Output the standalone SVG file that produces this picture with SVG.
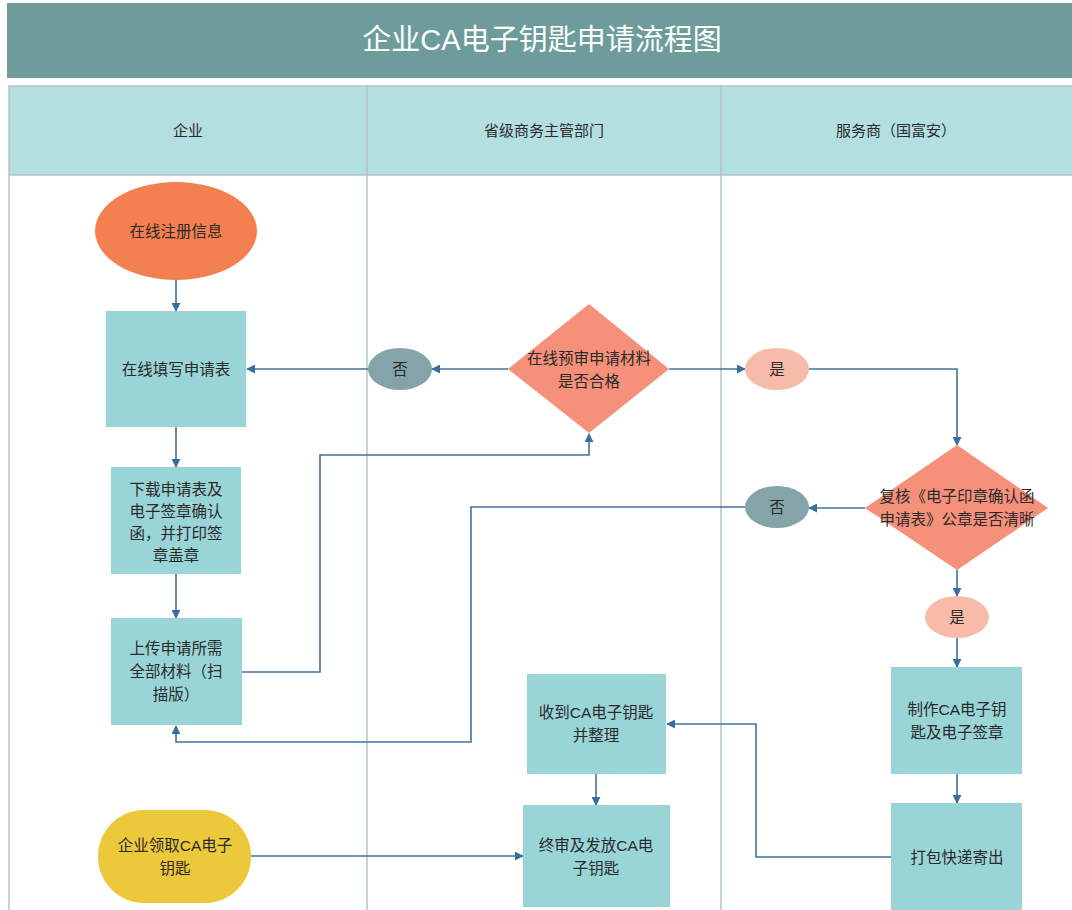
<svg xmlns="http://www.w3.org/2000/svg" width="1072" height="910" viewBox="0 0 1072 910">
<defs>
<marker id="ah" viewBox="0 0 10 10" refX="9" refY="5" markerWidth="9" markerHeight="9" markerUnits="userSpaceOnUse" orient="auto">
<path d="M0,0 L10,5 L0,10 z" fill="#3b6e9e"/>
</marker>
</defs>
<style>
text{font-family:"Liberation Sans","Noto Sans CJK SC",sans-serif;fill:#2a2a2a;text-anchor:middle;dominant-baseline:central}
.t{font-size:15.5px}
.h{font-size:15px}
.box{fill:#99d4d7}
.c{fill:none;stroke:#41729e;stroke-width:1.6;marker-end:url(#ah)}
.lane{stroke:#b5c3c8;stroke-width:1.5;fill:none}
</style>
<rect width="1072" height="910" fill="#ffffff"/>
<g id="title">
<rect x="7" y="3" width="1072" height="75" fill="#6e9c9b"/>
<text x="542" y="40" style="font-size:29px;fill:#ffffff">企业CA电子钥匙申请流程图</text>
</g>
<g id="lanes">
<rect x="9" y="86" width="1070" height="89" fill="#b4dfe0"/>
<rect x="9" y="86" width="1070" height="830" class="lane"/>
<line x1="9" y1="175" x2="1072" y2="175" class="lane"/>
<line x1="367" y1="86" x2="367" y2="910" class="lane"/>
<line x1="721" y1="86" x2="721" y2="910" class="lane"/>
<text x="188" y="130" class="h">企业</text>
<text x="544" y="130" class="h">省级商务主管部门</text>
<text x="896" y="130" class="h">服务商（国富安）</text>
</g>
<g id="connectors">
<path class="c" d="M176,280 V311"/>
<path class="c" d="M508,369 H432"/>
<path class="c" d="M368,369 H247"/>
<path class="c" d="M176,427 V467"/>
<path class="c" d="M176,574 V618"/>
<path class="c" d="M242,672 H320 V455 H589 V434"/>
<path class="c" d="M669,369 H745"/>
<path class="c" d="M809,369 H957 V445"/>
<path class="c" d="M865,508 H809"/>
<path class="c" d="M745,507 H471 V742 H176 V726"/>
<path class="c" d="M957,570 V596"/>
<path class="c" d="M957,638 V667"/>
<path class="c" d="M957,774 V803"/>
<path class="c" d="M891,857 H756 V724 H667"/>
<path class="c" d="M596,774 V805"/>
<path class="c" d="M251,856 H523"/>
</g>
<g id="n_register">
<ellipse cx="176" cy="231" rx="81" ry="49" fill="#f4804f"/>
<text x="176" y="231" class="t">在线注册信息</text>
</g>
<g id="n_fill">
<rect x="106" y="311" width="140" height="116" class="box"/>
<text x="176" y="369" class="t">在线填写申请表</text>
</g>
<g id="n_download">
<rect x="111" y="467" width="130" height="107" class="box"/>
<text x="176" y="489" class="t">下载申请表及</text>
<text x="176" y="511" class="t">电子签章确认</text>
<text x="176" y="533" class="t">函，并打印签</text>
<text x="176" y="555" class="t">章盖章</text>
</g>
<g id="n_upload">
<rect x="111" y="618" width="131" height="107" class="box"/>
<text x="176" y="648" class="t">上传申请所需</text>
<text x="176" y="671" class="t">全部材料（扫</text>
<text x="176" y="694" class="t">描版）</text>
</g>
<g id="n_no1">
<ellipse cx="400" cy="369" rx="32" ry="21" fill="#85a4a9"/>
<text x="400" y="369" class="t">否</text>
</g>
<g id="n_check1">
<polygon points="589,304 669,369 589,433 508,369" fill="#f5907a"/>
<text x="589" y="358" class="t">在线预审申请材料</text>
<text x="589" y="381" class="t">是否合格</text>
</g>
<g id="n_yes1">
<ellipse cx="777" cy="369" rx="32" ry="21" fill="#f7bca9"/>
<text x="777" y="369" class="t">是</text>
</g>
<g id="n_check2">
<polygon points="957,445 1048,508 957,570 865,508" fill="#f5907a"/>
<text x="957" y="496" class="t">复核《电子印章确认函</text>
<text x="957" y="519" class="t">申请表》公章是否清晰</text>
</g>
<g id="n_no2">
<ellipse cx="777" cy="507" rx="32" ry="21" fill="#85a4a9"/>
<text x="777" y="507" class="t">否</text>
</g>
<g id="n_yes2">
<ellipse cx="957" cy="617" rx="32" ry="21" fill="#f7bca9"/>
<text x="957" y="617" class="t">是</text>
</g>
<g id="n_make">
<rect x="891" y="667" width="131" height="107" class="box"/>
<text x="957" y="709" class="t">制作CA电子钥</text>
<text x="957" y="732" class="t">匙及电子签章</text>
</g>
<g id="n_ship">
<rect x="891" y="803" width="131" height="110" class="box"/>
<text x="957" y="857" class="t">打包快递寄出</text>
</g>
<g id="n_receive">
<rect x="527" y="674" width="139" height="100" class="box"/>
<text x="596" y="712" class="t">收到CA电子钥匙</text>
<text x="596" y="735" class="t">并整理</text>
</g>
<g id="n_final">
<rect x="523" y="805" width="147" height="102" class="box"/>
<text x="596" y="845" class="t">终审及发放CA电</text>
<text x="596" y="868" class="t">子钥匙</text>
</g>
<g id="n_collect">
<rect x="98" y="810" width="153" height="93" rx="46" ry="46" fill="#ecc83b"/>
<text x="175" y="845" class="t">企业领取CA电子</text>
<text x="175" y="868" class="t">钥匙</text>
</g>
</svg>
